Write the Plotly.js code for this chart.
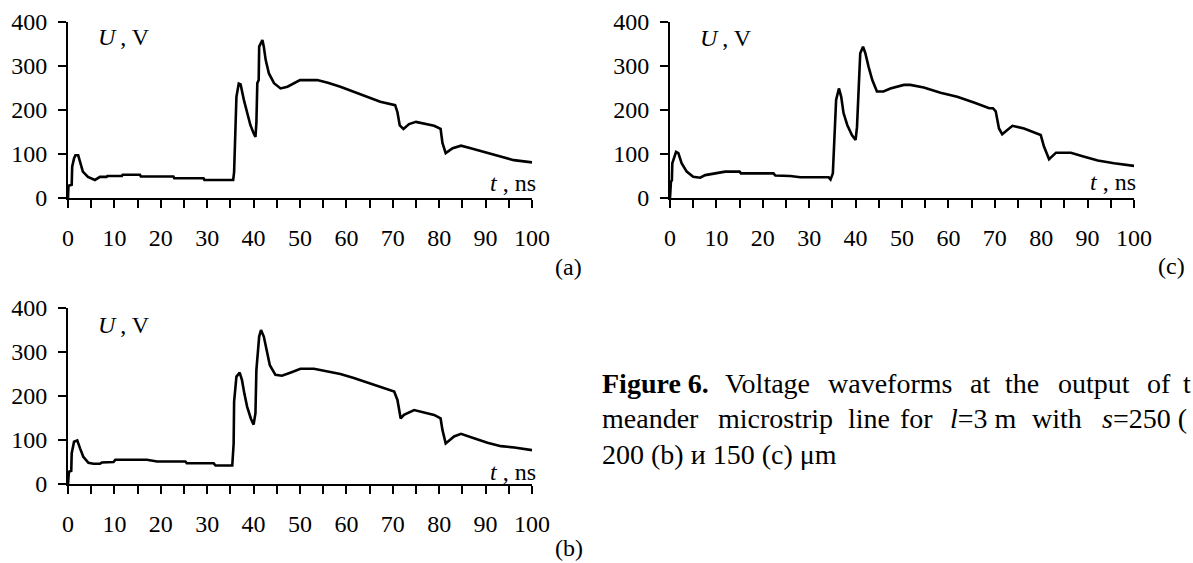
<!DOCTYPE html>
<html>
<head>
<meta charset="utf-8">
<script src="https://cdn.plot.ly/plotly-3.0.1.min.js"></script>
<style>html,body{margin:0;padding:0;background:#fff;}#chart{width:1193px;height:563px;}</style>
</head>
<body>
<div id="chart"></div>
<script>
// ---- data ----
const tA = [0,0.1,0.8,0.9,1.3,1.6,2.2,2.5,3.2,4.3,5.8,6.9,8.3,8.5,11.6,11.8,15.5,15.7,22.7,22.9,29.2,29.4,35.6,35.8,36.0,36.3,36.8,37.2,37.9,38.6,39.3,40.0,40.4,40.6,40.8,41.1,41.2,41.9,42.2,42.6,43.3,44.4,45.8,47.3,48.7,50,53.7,56,58.7,61.6,64.5,67.3,70.5,71.0,71.5,72.3,73.5,75,78.9,80.3,80.7,81.4,82.9,84.7,86.8,89.7,93.3,96.1,100];
const uA = [0,28,30,71,90,97,97,85,60,48,41,48,48,50,50,53,53,49,49,45,45,41,41,59,150,230,260,258,223,193,166,147,139,170,261,268,344,359,344,314,283,261,249,253,261,268,268,262,253,242,230,219,211,195,165,157,168,173,164,157,125,102,113,119,113,105,94,86,81];

const tB = [0,0.2,0.7,0.8,1.3,2.0,2.6,3.3,4.4,5.5,6.9,7.3,9.8,10.2,17,19.2,25.3,25.6,31.4,31.8,35.4,35.7,35.8,36.3,37,37.5,38,38.6,39.4,40,40.4,40.6,41.2,41.6,42.2,42.8,43.5,44.7,46.1,47.9,50.1,53,55.1,58.7,61.6,64.5,67.4,70.3,71,71.7,72.4,74.6,78.9,80.3,80.7,81.4,83.2,84.7,87.5,90.4,93.3,96.2,100];
const uB = [0,28,30,70,96,99,81,62,48,46,46,49,50,55,55,51,51,47,47,42,42,92,187,244,253,236,206,176,149,135,161,259,335,350,335,305,270,248,246,253,262,262,258,250,241,231,221,210,191,149,157,168,157,149,123,92,108,114,104,94,86,83,77];

const tC = [0,0.2,0.4,0.5,1.3,1.8,2.5,3.6,5,6.5,7.6,10,11.9,15,15.3,22.3,22.7,25.9,28.1,34.2,34.6,35.1,35.4,35.8,36.4,36.9,37.4,38.2,39.2,40,40.3,40.7,41,41.6,42.1,42.8,43.6,44.6,46,47.5,50.4,51.8,54.7,58.3,61.9,65.5,68.8,69.6,70.2,70.9,71.6,72.3,73.8,76.3,79.9,80.6,81.7,83.2,86.4,89.3,92.2,95.7,100];
const uC = [0,37,40,79,105,102,79,60,48,46,52,56,60,60,56,56,51,50,47,47,42,56,143,223,249,230,193,166,143,132,161,253,329,344,329,298,268,242,242,249,257,257,251,239,230,217,204,204,197,158,145,151,164,158,143,117,88,103,103,94,85,79,73];

const xTicks = [0,10,20,30,40,50,60,70,80,90,100];
const yTicks = [0,100,200,300,400];
const panelTags = ['(a)','(b)','(c)'];
const yLabel = '<i>U</i>\u2009, V';
const xLabel = '<i>t</i> , ns';
// caption words of the two justified lines (cut at the right edge as in the reference), and the last line
const captionLine1 = ['<b>Figure 6.</b>','Voltage','waveforms','at','the','output','of','t'];
const captionLine2 = ['meander','microstrip','line','for','<i>l</i>=3 m','with','<i>s</i>=250 ('];
const captionLine3 = '200 (b) и 150 (c) μm';

// ---- layout helpers ----
const W = 1193, H = 563;
const fx = v => v / W;
const fy = v => 1 - v / H;
const FONT = 'Liberation Serif, Times New Roman, serif';

function xAxis(x0, x1, anchor) {
  return {
    domain: [fx(x0), fx(x1)], range: [0, 100], anchor: anchor,
    tickmode: 'array', tickvals: xTicks, ticktext: xTicks.map(String),
    ticks: 'outside', ticklen: 8, tickwidth: 2, tickcolor: '#000',
    minor: {dtick: 5, tick0: 0, ticks: 'outside', ticklen: 8, tickwidth: 2, tickcolor: '#000', showgrid: false},
    showline: true, linewidth: 2, linecolor: '#000',
    showgrid: false, zeroline: false, fixedrange: true,
    tickfont: {family: FONT, size: 24, color: '#000'},
    ticklabelstandoff: 9
  };
}
function yAxis(y0, y1, anchor) {
  return {
    domain: [fy(y0), fy(y1)], range: [0, 400], anchor: anchor,
    tickmode: 'array', tickvals: yTicks, ticktext: yTicks.map(String),
    ticks: 'outside', ticklen: 8, tickwidth: 2, tickcolor: '#000',
    showline: true, linewidth: 2, linecolor: '#000',
    showgrid: false, zeroline: false, fixedrange: true,
    tickfont: {family: FONT, size: 24, color: '#000'},
    ticklabelstandoff: 6
  };
}

const lineStyle = {color: '#000', width: 2.6, shape: 'linear'};
const traces = [
  {x: tA, y: uA, xaxis: 'x', yaxis: 'y', type: 'scatter', mode: 'lines', line: lineStyle, hoverinfo: 'skip'},
  {x: tB, y: uB, xaxis: 'x2', yaxis: 'y2', type: 'scatter', mode: 'lines', line: lineStyle, hoverinfo: 'skip'},
  {x: tC, y: uC, xaxis: 'x3', yaxis: 'y3', type: 'scatter', mode: 'lines', line: lineStyle, hoverinfo: 'skip'}
];

function ann(text, x, y, xanchor, size) {
  return {text: text, xref: 'paper', yref: 'paper', x: fx(x), y: fy(y),
    xanchor: xanchor, yanchor: 'middle', showarrow: false,
    font: {family: FONT, size: size, color: '#000'}};
}

const annotations = [
  ann(yLabel, 96, 37, 'left', 24),
  ann(xLabel, 538, 183, 'right', 24),
  ann(panelTags[0], 568, 267, 'center', 24),
  ann(yLabel, 96, 325, 'left', 24),
  ann(xLabel, 538, 472, 'right', 24),
  ann(panelTags[1], 569, 548, 'center', 24),
  ann(yLabel, 698, 38, 'left', 24),
  ann(xLabel, 1138, 182, 'right', 24),
  ann(panelTags[2], 1171, 266, 'center', 24)
];
// justified caption: word start positions (px) measured on the reference
const line1X = [600, 723, 826, 968, 1003, 1056, 1145, 1181];
const line2X = [600, 716, 846, 898, 948, 1030, 1100];
captionLine1.forEach((w, i) => annotations.push(ann(w, line1X[i], 383, 'left', 28)));
captionLine2.forEach((w, i) => annotations.push(ann(w, line2X[i], 418, 'left', 28)));
annotations.push(ann(captionLine3, 600, 455, 'left', 28));

const layout = {
  width: W, height: H,
  margin: {l: 0, r: 0, t: 0, b: 0, pad: 0},
  paper_bgcolor: '#fff', plot_bgcolor: 'rgba(0,0,0,0)',
  showlegend: false,
  xaxis: xAxis(68, 532, 'y'),
  yaxis: yAxis(198, 22, 'x'),
  xaxis2: xAxis(68, 532, 'y2'),
  yaxis2: yAxis(484, 308, 'x2'),
  xaxis3: xAxis(670, 1134, 'y3'),
  yaxis3: yAxis(198, 22, 'x3'),
  annotations: annotations
};

Plotly.newPlot('chart', traces, layout, {staticPlot: true, displayModeBar: false});
</script>
</body>
</html>
